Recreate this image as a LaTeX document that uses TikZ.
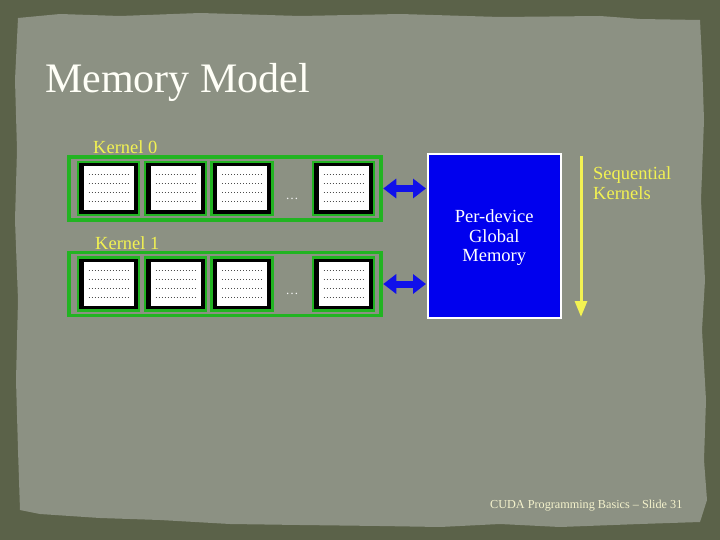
\documentclass[tikz,border=0pt]{standalone}
\usepackage{fontspec}
\setmainfont{Liberation Serif}
\usetikzlibrary{arrows.meta}
\definecolor{frameol}{HTML}{5B6249}
\definecolor{paper}{HTML}{8C9183}
\definecolor{kgreen}{HTML}{22B422}
\definecolor{kyellow}{HTML}{F2F252}
\definecolor{memblue}{HTML}{0000EE}
\definecolor{arrblue}{HTML}{1010EA}
\definecolor{cream}{HTML}{F4F2CC}
\tikzset{
  kernelbox/.style={draw=kgreen, line width=3.5pt, minimum width=312pt, minimum height=63pt, inner sep=0pt},
  blockbox/.style={draw=kgreen, fill=black, line width=2.5pt, minimum width=61pt, minimum height=53pt, inner sep=0pt},
  klabel/.style={text=kyellow, font=\fontsize{18.5}{20}\selectfont, inner sep=0pt},
  dotsl/.style={text=white!90!paper, font=\fontsize{13}{15}\selectfont, inner sep=0pt},
  memarrow/.style={arrblue, line width=7pt, {Triangle[length=13pt,width=19pt]}-{Triangle[length=13pt,width=19pt]}, shorten <=0.5pt, shorten >=0.5pt},
}
\newcommand{\threadfill}[1]{%
  \fill[white] ([xshift=-25pt,yshift=-22pt]#1.center) rectangle ([xshift=25pt,yshift=22pt]#1.center);
  \foreach \dy in {-13,-4,5,14}{
    \draw[black!70, line width=0.7pt, dash pattern=on 1pt off 2pt] ([xshift=-20pt,yshift=\dy pt]#1.center) -- ([xshift=20pt,yshift=\dy pt]#1.center);
  }
}
\begin{document}
\begin{tikzpicture}[x=1pt,y=-1pt]
\useasboundingbox (0,0) rectangle (720,540);
\fill[frameol] (0,0) rectangle (720,540);
\fill[paper] (18,18) -- (60,14) -- (120,16) -- (200,13) -- (300,16) -- (400,14) -- (500,17) -- (600,16) -- (640,19) -- (700,20)
  -- (702,60) -- (704,120) -- (701,200) -- (705,280) -- (702,330) -- (706,400) -- (704,460) -- (707,500) -- (700,522)
  -- (640,524) -- (560,527) -- (500,524) -- (440,527) -- (380,526) -- (300,525) -- (230,524) -- (160,520) -- (100,518) -- (40,514) -- (20,510)
  -- (18,450) -- (16,380) -- (18,300) -- (15,220) -- (17,150) -- (15,80) -- cycle;

% title
\node[anchor=base west, text=white!97!yellow, font=\fontsize{42}{46}\selectfont, inner sep=0pt] (title) at (45,93) {Memory Model};

% kernel 0
\node[klabel, anchor=west] (lab0) at (93,147) {Kernel 0};
\node[kernelbox] (k0) at (225,188.5) {};
\node[blockbox] (b01) at (108.5,188.5) {};
\node[blockbox] (b02) at (175.5,188.5) {};
\node[blockbox] (b03) at (242,188.5) {};
\node[blockbox] (b04) at (343.5,188.5) {};
\node[dotsl] (d0) at (292,199) {\dots};
\threadfill{b01}\threadfill{b02}\threadfill{b03}\threadfill{b04}

% kernel 1
\node[klabel, anchor=west] (lab1) at (95,243) {Kernel 1};
\node[kernelbox] (k1) at (225,284) {};
\node[blockbox] (b11) at (108.5,284) {};
\node[blockbox] (b12) at (175.5,284) {};
\node[blockbox] (b13) at (242,284) {};
\node[blockbox] (b14) at (343.5,284) {};
\node[dotsl] (d1) at (292,294) {\dots};
\threadfill{b11}\threadfill{b12}\threadfill{b13}\threadfill{b14}

% global memory
\node[draw=white, fill=memblue, line width=2.5pt, minimum width=133pt, minimum height=164pt, inner sep=0pt] (mem) at (494.25,236) {};
\node[text=white, align=center, font=\fontsize{18.5}{19.5}\selectfont, inner sep=0pt] (memtext) at (494.25,238) {Per-device\\Global\\Memory};

\draw[memarrow] (k0.east) -- (mem.west |- k0.east);
\draw[memarrow] (k1.east) -- (mem.west |- k1.east);

% sequential kernels arrow
\coordinate (seqtop) at (581,156);
\coordinate (seqbot) at (581,317);
\draw[kyellow, line width=3pt, -{Triangle[length=16pt,width=12pt]}] (seqtop) -- (seqbot);
\node[klabel, anchor=north west, align=left, font=\fontsize{18.5}{20.5}\selectfont] (seqlab) at (593,166) {Sequential\\Kernels};

% footer
\node[anchor=base west, text=cream, font=\fontsize{12.2}{14}\selectfont, inner sep=0pt] (foot) at (490,508) {CUDA Programming Basics -- Slide 31};
\end{tikzpicture}
\end{document}
